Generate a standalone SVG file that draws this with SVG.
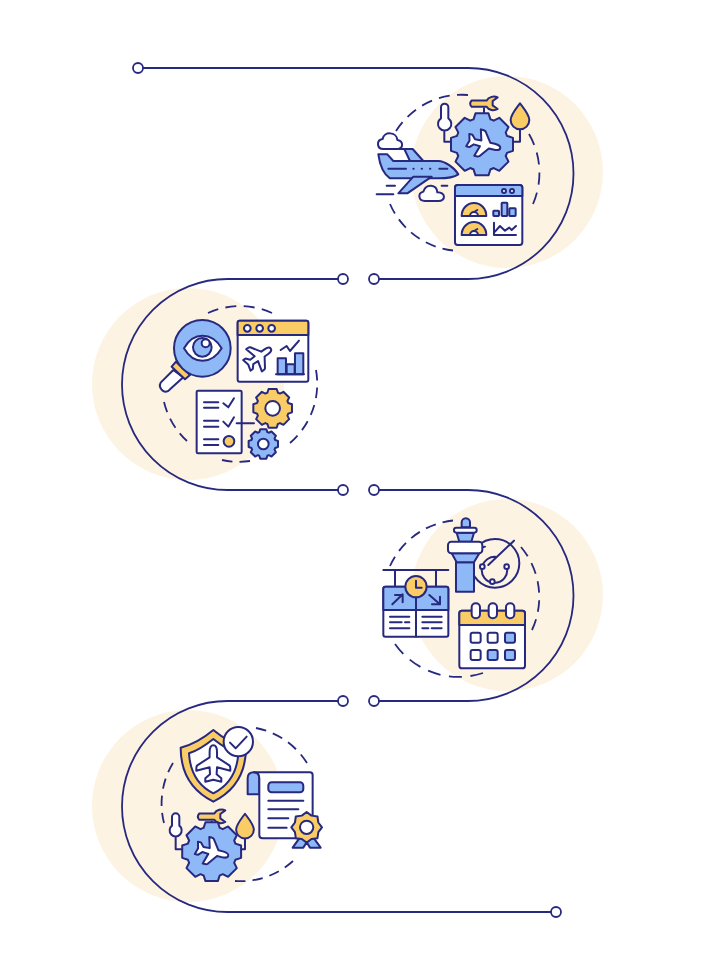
<svg xmlns="http://www.w3.org/2000/svg" width="703" height="980" viewBox="0 0 703 980">
<style>
path,rect,circle,line,polyline,polygon{vector-effect:non-scaling-stroke}
.s,.w,.b,.y{stroke:#27297f;stroke-width:2;stroke-linecap:round;stroke-linejoin:round}
.s{fill:none}.w{fill:#fff}.b{fill:#8fb8f7}.y{fill:#f9cc66}
.peach{fill:#fdf3e2}
.dash{fill:none;stroke:#27297f;stroke-width:1.8;stroke-dasharray:12 8}
.main{fill:none;stroke:#27297f;stroke-width:1.8}
.pt{fill:#fff;stroke:#27297f;stroke-width:1.8}
</style>
<defs>
<path id="gear" d="M25,-8.500L31,-6.500V6.500L25,8.500A26,26 0 0 1 23.700,11.700L26.500,17.300L17.300,26.500L11.700,23.700A26,26 0 0 1 8.500,25L6.500,31H-6.500L-8.500,25A26,26 0 0 1 -11.700,23.700L-17.300,26.500L-26.500,17.300L-23.700,11.700A26,26 0 0 1 -25,8.500L-31,6.500V-6.500L-25,-8.500A26,26 0 0 1 -23.700,-11.700L-26.500,-17.300L-17.300,-26.500L-11.700,-23.700A26,26 0 0 1 -8.500,-25L-6.500,-31H6.500L8.500,-25A26,26 0 0 1 11.700,-23.700L17.300,-26.500L26.500,-17.300L23.700,-11.700A26,26 0 0 1 25,-8.500Z"/>
<path id="plane" d="M0,-19C3,-19 3.700,-15 3.700,-12L3.700,-7L16,1Q17,2 17,4V6.500L3.700,3L3.300,10L8,14V17.500L0,15.500L-8,17.500V14L-3.300,10L-3.700,3L-17,6.500V4Q-17,2 -16,1L-3.700,-7L-3.700,-12C-3.700,-15 -3,-19 0,-19Z"/>
<path id="wrench" d="M-37,-9.500H8C14,-21 30,-24 41,-19L26,-8V5L41,16C30,23 14,20 8,9.500H-37Q-46,0 -37,-9.500Z"/>
<path id="drop" d="M0,-45C15,-25 28,-10 28,5A28,28 0 0 1 -28,5C-28,-10 -15,-25 0,-45Z"/>
</defs>

<g id="backdrops">
<circle class="peach" cx="507" cy="172" r="96"/>
<circle class="peach" cx="188" cy="384" r="96"/>
<circle class="peach" cx="507" cy="595" r="96"/>
<circle class="peach" cx="188" cy="806" r="96"/>
</g>

<g id="connectors">
<path class="main" d="M143,68H468A105.500,105.500 0 0 1 468,279H379"/>
<path class="main" d="M338,279H227.500A105.500,105.500 0 0 0 227.500,490H338"/>
<path class="main" d="M379,490H468A105.500,105.500 0 0 1 468,701H379"/>
<path class="main" d="M338,701H227.500A105.500,105.500 0 0 0 227.500,912H551"/>
<circle class="pt" cx="138" cy="68" r="5"/>
<circle class="pt" cx="374" cy="279" r="5"/>
<circle class="pt" cx="343" cy="279" r="5"/>
<circle class="pt" cx="343" cy="490" r="5"/>
<circle class="pt" cx="374" cy="490" r="5"/>
<circle class="pt" cx="374" cy="701" r="5"/>
<circle class="pt" cx="343" cy="701" r="5"/>
<circle class="pt" cx="556" cy="912" r="5"/>
</g>

<g id="node-1">
<path class="dash" pathLength="92" d="M468,95A78,78 0 0 0 396,131"/>
<path class="dash" pathLength="92" d="M390,204A78,78 0 0 0 453,250.500"/>
<path class="dash" pathLength="72" d="M529,134A78,78 0 0 1 533,204"/>
<g transform="translate(370,125) scale(.3333)">
<path class="w" d="M40,72C20,72 18,45 38,42C42,18 80,20 82,45C102,48 100,72 82,72Z"/>
<path class="w" d="M165,228C145,228 142,205 160,200C168,175 200,178 202,202C228,203 228,228 205,228Z"/>
<path class="b" d="M103,72H128L160,108H120Z"/>
<path class="b" d="M25,88H52L70,108H205C225,108 255,130 265,148C255,155 235,160 205,160H60C45,150 30,125 25,88Z"/>
<path class="b" d="M185,155L112,205H85L130,155Z"/>
<path class="s" d="M55,131H108M130,131H131M155,131H156M180,131H181M208,131H232M50,182H75M20,208H70M215,182H232M88,72H108"/>
</g>
<g transform="translate(360,60) scale(.3333)">
<path class="s" d="M253,215V245H280M480,210V245H455M372,145V165"/>
<path class="w" d="M243,175V142A11,11 0 0 1 265,142V175A20,20 0 1 1 243,175Z"/>
<use href="#drop" class="y" transform="translate(480,175)"/>
<use href="#wrench" class="y" transform="translate(372,131)"/>
<use href="#gear" class="b" transform="translate(366,253) scale(3)"/>
<use href="#plane" class="w" transform="translate(370,252) rotate(104) scale(2.4,2.75)"/>
<rect class="w" x="285" y="375" width="202" height="180" rx="8"/>
<path class="b" d="M285,408V383Q285,375 293,375H479Q487,375 487,383V408Z"/>
<circle class="w" cx="432" cy="393" r="6"/><circle class="w" cx="456" cy="393" r="6"/>
<path class="y" d="M305,468A37,39 0 0 1 379,468Z"/>
<path class="w" d="M330,468A12,12 0 0 1 354,468Z"/>
<path class="s" d="M342,456L352,450"/>
<path class="y" d="M305,525A37,39 0 0 1 379,525Z"/>
<path class="w" d="M330,525A12,12 0 0 1 354,525Z"/>
<path class="s" d="M342,513L352,507"/>
<rect class="b" x="400" y="452" width="17" height="16" rx="2"/>
<rect class="b" x="425" y="428" width="17" height="40" rx="2"/>
<rect class="b" x="448" y="445" width="19" height="23" rx="2"/>
<path class="s" d="M402,488V525H468M405,515L420,498L435,512L448,503L455,510L468,498"/>
</g>
</g>

<g id="node-2">
<path class="dash" pathLength="72" d="M208,313A78,78 0 0 1 272,313"/>
<path class="dash" pathLength="92" d="M316,370A78,78 0 0 1 290,443"/>
<path class="dash" pathLength="32" d="M250,461A78,78 0 0 1 222,460"/>
<path class="dash" pathLength="52" d="M187,441A78,78 0 0 1 164,402"/>
<g transform="translate(90,270) scale(.3333)">
<path class="w" d="M250,300L212,338Q205,350 218,362Q230,370 240,358L280,322Z"/>
<path class="y" d="M258,275L300,315L285,328L245,290Z"/>
<circle class="b" cx="337" cy="235" r="85"/>
<path class="w" d="M282,235C310,185 365,185 395,235C365,285 310,285 282,235Z"/>
<circle class="b" cx="337" cy="232" r="28"/>
<circle class="w" cx="347" cy="220" r="12"/>
<rect class="w" x="443" y="152" width="212" height="183" rx="6"/>
<path class="y" d="M443,195V158Q443,152 449,152H649Q655,152 655,158V195Z"/>
<circle class="w" cx="472" cy="175" r="10"/><circle class="w" cx="509" cy="175" r="10"/><circle class="w" cx="545" cy="175" r="10"/>
<use href="#plane" class="w" transform="translate(505,262) rotate(55) scale(2.4)"/>
<rect class="b" x="563" y="265" width="25" height="48"/>
<rect class="b" x="590" y="283" width="24" height="30"/>
<rect class="b" x="615" y="250" width="25" height="63"/>
<path class="s" d="M558,313H642M572,240L590,228L600,243L627,212"/>
<rect class="w" x="320" y="362" width="135" height="188" rx="4"/>
<path class="s" d="M342,397H385M342,413H385M400,400L415,412L432,385M342,452H385M342,470H385M400,455L415,470L432,442M342,508H385M342,525H385M440,460H492"/>
<circle class="y" cx="417" cy="514" r="16"/>
<use href="#gear" class="y" transform="translate(548,415) scale(1.87)"/>
<circle class="w" cx="548" cy="415" r="22"/>
<use href="#gear" class="b" transform="translate(520,522) scale(1.42)"/>
<circle class="w" cx="520" cy="522" r="16"/>
</g>
</g>

<g id="node-3">
<path class="dash" pathLength="92" d="M390,566A78,78 0 0 1 453,520.500"/>
<path class="dash" pathLength="92" d="M521,547A78,78 0 0 1 532,630"/>
<path class="dash" pathLength="92" d="M483,673A78,78 0 0 1 395,644"/>
<g transform="translate(360,485) scale(.3333)">
<circle class="s" cx="405" cy="235" r="73"/>
<path class="s" d="M367,245A38,38 0 0 1 410,216M440,245A38,38 0 1 1 367,245M385,240L462,167M350,193L375,185"/>
<circle class="w" cx="367" cy="245" r="7"/><circle class="w" cx="440" cy="245" r="7"/><circle class="w" cx="397" cy="290" r="7"/>
<rect class="b" x="288" y="232" width="54" height="88"/>
<path class="b" d="M305,127V112A12.500,12.500 0 0 1 330,112V127Z"/>
<path class="b" d="M275,205H358L342,232H290Z"/>
<path class="b" d="M290,143H342L334,170H298Z"/>
<rect class="w" x="282" y="128" width="68" height="15" rx="7"/>
<rect class="w" x="264" y="170" width="103" height="35" rx="10"/>
<path class="s" d="M70,255H265M105,255V305M228,255V305"/>
<rect class="w" x="70" y="305" width="195" height="150" rx="6"/>
<path class="b" d="M70,375V311Q70,305 76,305H259Q265,305 265,311V375Z"/>
<path class="s" d="M168,340V455M97,358L128,328M105,330H128V352M208,330L240,358M240,335V358H216"/>
<path class="s" d="M90,395H148M90,412H125M135,412H148M90,430H148M187,395H245M187,412H245M187,430H205M215,430H245"/>
<circle class="y" cx="168" cy="305" r="32"/>
<path class="s" d="M168,287V308H185"/>
<rect class="w" x="298" y="377" width="197" height="173" rx="8"/>
<path class="y" d="M298,420V385Q298,377 306,377H487Q495,377 495,385V420Z"/>
<rect class="w" x="335" y="355" width="25" height="45" rx="12"/>
<rect class="w" x="386" y="355" width="25" height="45" rx="12"/>
<rect class="w" x="438" y="355" width="25" height="45" rx="12"/>
<rect class="w" x="332" y="443" width="30" height="30" rx="6"/>
<rect class="w" x="383" y="443" width="30" height="30" rx="6"/>
<rect class="b" x="435" y="443" width="30" height="30" rx="6"/>
<rect class="w" x="332" y="495" width="30" height="30" rx="6"/>
<rect class="b" x="383" y="495" width="30" height="30" rx="6"/>
<rect class="b" x="435" y="495" width="30" height="30" rx="6"/>
</g>
</g>

<g id="node-4">
<path class="dash" pathLength="72" d="M256,728A78,78 0 0 1 307,763"/>
<path class="dash" pathLength="72" d="M173,763A78,78 0 0 0 164,823"/>
<path class="dash" pathLength="72" d="M293,861A78,78 0 0 1 235,881"/>
<g transform="translate(90,695) scale(.3333)">
<path class="y" d="M370,105C340,130 305,150 272,158C272,230 300,285 370,320C440,285 468,230 468,158C435,150 400,130 370,105Z"/>
<path class="w" d="M370,132C345,152 320,168 297,175C300,225 320,270 370,295C420,270 442,225 445,175C420,168 395,152 370,132Z"/>
<use href="#plane" class="w" transform="translate(370,208) scale(3)"/>
<circle class="w" cx="445" cy="140" r="44"/>
<path class="s" d="M420,143L437,160L470,125"/>
<path class="b" d="M473,298V250Q473,232 492,232Q508,232 508,250V298Z"/>
<path class="w" d="M492,232H660Q668,232 668,240V430H518Q508,430 508,420V250Q508,232 492,232Z"/>
<rect class="b" x="535" y="262" width="105" height="30" rx="10"/>
<path class="s" d="M535,317H640M535,343H625M535,370H595M535,398H590"/>
<path class="b" d="M628,430L608,458H640L650,442L660,458H692L672,430Z"/>
<polygon class="y" transform="translate(650,397)" points="46,0 35.100,14.500 32.500,32.500 14.500,35.100 0,46 -14.500,35.100 -32.500,32.500 -35.100,14.500 -46,0 -35.100,-14.500 -32.500,-32.500 -14.500,-35.100 0,-46 14.500,-35.100 32.500,-32.500 35.100,-14.500"/>
<circle class="w" cx="650" cy="397" r="20"/>
<path class="s" d="M257,428V463H280M465,427V463H445M365,380V395"/>
<path class="w" d="M246,392V366A11,11 0 0 1 268,366V392A18,18 0 1 1 246,392Z"/>
<use href="#drop" class="y" transform="translate(465,399) scale(.95)"/>
<use href="#wrench" class="y" transform="translate(365,365)"/>
<use href="#gear" class="b" transform="translate(365,470) scale(2.85)"/>
<use href="#plane" class="w" transform="translate(365,470) rotate(104) scale(2.4,2.7)"/>
</g>
</g>
</svg>
